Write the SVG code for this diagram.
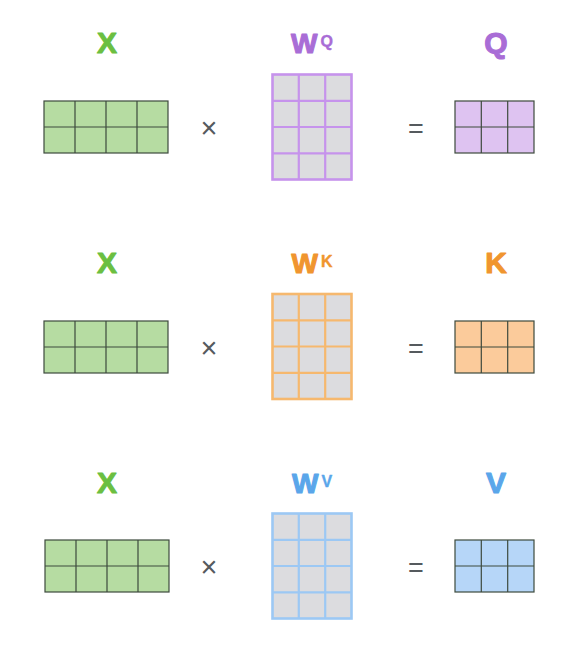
<svg xmlns="http://www.w3.org/2000/svg" width="581" height="658" viewBox="0 0 581 658">
<style>
.lbl{font-family:"Liberation Sans",Arial,sans-serif;font-weight:bold;text-anchor:middle;stroke-width:1.1;stroke-linejoin:round}
.big{font-size:30px}
.w{font-size:28px}
.sup{font-size:16px;stroke-width:0.4}
.op{font-family:"Liberation Sans",Arial,sans-serif;fill:#555a5e;text-anchor:middle}
.g{fill:#6bbf41;stroke:#6bbf41}.p{fill:#a96dd6;stroke:#a96dd6}.o{fill:#f0952f;stroke:#f0952f}.b{fill:#5aa6ea;stroke:#5aa6ea}
.mx{fill:#b6dca2;stroke:#3d4a3d;stroke-width:1.2}
.gl{stroke:#3d4a3d;stroke-width:1.2}
.wm{fill:#dcdcdf;stroke-width:2.6}
.wl{stroke-width:2.2}
.pq{stroke:#c693ec}.ok{stroke:#f6b86e}.bv{stroke:#9cc8f4}
.qf{fill:#dec3f1}.kf{fill:#fbcb9b}.vf{fill:#b6d6f8}
</style>
<rect width="581" height="658" fill="#ffffff"/>

<!-- Row 1 -->
<g id="x1">
<text class="lbl big g" x="107" y="53">X</text>
<rect class="mx" x="44" y="101" width="124" height="52"/>
<path class="gl" d="M75 101V153M106 101V153M137 101V153M44 127H168"/>
</g>
<g id="op-mul1"><text class="op" x="209" y="138" font-size="29">×</text></g>
<g id="wq">
<text class="lbl p" x="312" y="53"><tspan class="w">W</tspan><tspan class="sup" dx="3" dy="-6">Q</tspan></text>
<rect class="wm pq" x="272.5" y="74.5" width="79" height="105"/>
<path class="wl pq" d="M298.8 74.5V179.5M325.2 74.5V179.5M272.5 100.8H351.5M272.5 127H351.5M272.5 153.3H351.5"/>
</g>
<g id="op-eq1"><text class="op" x="416" y="138" font-size="27">=</text></g>
<g id="q">
<text class="lbl big p" x="496" y="53">Q</text>
<rect class="mx qf" x="455" y="101" width="79" height="52"/>
<path class="gl" d="M481.3 101V153M507.7 101V153M455 127H534"/>
</g>

<!-- Row 2 -->
<g id="x2">
<text class="lbl big g" x="107" y="273">X</text>
<rect class="mx" x="44" y="321" width="124" height="52"/>
<path class="gl" d="M75 321V373M106 321V373M137 321V373M44 347H168"/>
</g>
<g id="op-mul2"><text class="op" x="209" y="358" font-size="29">×</text></g>
<g id="wk">
<text class="lbl o" x="312" y="273"><tspan class="w">W</tspan><tspan class="sup" dx="3" dy="-6">K</tspan></text>
<rect class="wm ok" x="272.5" y="294" width="79" height="105"/>
<path class="wl ok" d="M298.8 294V399M325.2 294V399M272.5 320.3H351.5M272.5 346.5H351.5M272.5 372.8H351.5"/>
</g>
<g id="op-eq2"><text class="op" x="416" y="358" font-size="27">=</text></g>
<g id="k">
<text class="lbl big o" x="496" y="273">K</text>
<rect class="mx kf" x="455" y="321" width="79" height="52"/>
<path class="gl" d="M481.3 321V373M507.7 321V373M455 347H534"/>
</g>

<!-- Row 3 -->
<g id="x3">
<text class="lbl big g" x="107" y="493">X</text>
<rect class="mx" x="45" y="540" width="124" height="52"/>
<path class="gl" d="M76 540V592M107 540V592M138 540V592M45 566H169"/>
</g>
<g id="op-mul3"><text class="op" x="209" y="577" font-size="29">×</text></g>
<g id="wv">
<text class="lbl b" x="312" y="493"><tspan class="w">W</tspan><tspan class="sup" dx="3" dy="-6">V</tspan></text>
<rect class="wm bv" x="272.5" y="513.5" width="79" height="105"/>
<path class="wl bv" d="M298.8 513.5V618.5M325.2 513.5V618.5M272.5 539.8H351.5M272.5 566H351.5M272.5 592.3H351.5"/>
</g>
<g id="op-eq3"><text class="op" x="416" y="577" font-size="27">=</text></g>
<g id="v">
<text class="lbl big b" x="496" y="493">V</text>
<rect class="mx vf" x="455" y="540" width="79" height="52"/>
<path class="gl" d="M481.3 540V592M507.7 540V592M455 566H534"/>
</g>

<g id="connectors"></g>
</svg>
